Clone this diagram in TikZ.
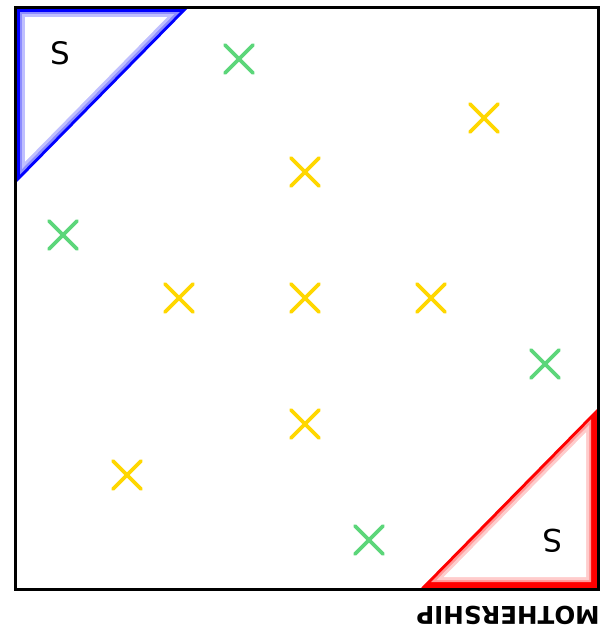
\documentclass[tikz,border=0pt]{standalone}
\usepackage{fontspec}
\setmainfont{DejaVu Sans}
\definecolor{xgreen}{RGB}{92,214,122}
\definecolor{xyellow}{RGB}{255,215,0}
\tikzset{
  cross/.style={line width=3.8pt, line cap=round},
  framebox/.style={draw=black, line width=2.6pt},
  letter/.style={font=\fontsize{31}{34}\selectfont, inner sep=0pt},
}
\newcommand{\xmark}[3]{%
  \draw[cross,#1] (#2-14,#3-14) -- (#2+14,#3+14);
  \draw[cross,#1] (#2-14,#3+14) -- (#2+14,#3-14);
}
\begin{document}
\begin{tikzpicture}[x=1pt,y=-1pt]
\useasboundingbox (0,0) rectangle (603,629);
% blue triangle (nested fills for the soft border)
\fill[blue] (14,6) -- (190,6) -- (14,185) -- cycle;
\fill[blue!45] (20,12) -- (179.89,12) -- (20,174.62) -- cycle;
\fill[blue!25] (22,14) -- (174.42,14) -- (22,169.02) -- cycle;
\fill[white] (25,17) -- (167.26,17) -- (25,161.69) -- cycle;
% red triangle
\fill[red] (597,588) -- (421,588) -- (597,409) -- cycle;
\fill[red!40] (591,582) -- (431.11,582) -- (591,419.38) -- cycle;
\fill[red!20] (589,580) -- (436.58,580) -- (589,424.98) -- cycle;
\fill[white] (586,577) -- (443.74,577) -- (586,432.31) -- cycle;
% frame
\node[framebox, minimum width=583pt, minimum height=582pt, inner sep=0pt, anchor=north west] (field) at (14,6) {};
% labels
\node[letter] (sblue) at (60,53) {S};
\node[letter, rotate=180] (sred) at (553,541) {S};
\node[font=\bfseries\fontsize{24.5}{28}\selectfont, inner sep=0pt, rotate=180] (mother) at (508,615) {MOTHERSHIP};
% crosses
\xmark{xgreen}{239}{59}
\xmark{xgreen}{63}{235}
\xmark{xgreen}{545}{364}
\xmark{xgreen}{369}{540}
\xmark{xyellow}{484}{118}
\xmark{xyellow}{305}{172}
\xmark{xyellow}{179}{298}
\xmark{xyellow}{305}{298}
\xmark{xyellow}{431}{298}
\xmark{xyellow}{305}{424}
\xmark{xyellow}{127}{475}
\end{tikzpicture}
\end{document}
